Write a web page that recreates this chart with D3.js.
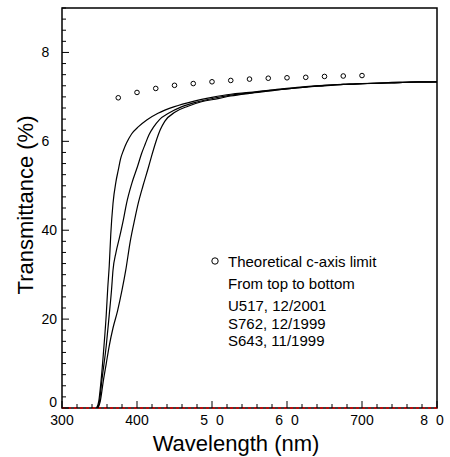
<!DOCTYPE html>
<html><head><meta charset="utf-8">
<script src="https://cdn.jsdelivr.net/npm/d3@7/dist/d3.min.js"></script>
<style>
html,body{margin:0;padding:0;background:#fff;}
text{font-family:"Liberation Sans",Arial,Helvetica,sans-serif;}
</style></head>
<body><svg id="c" width="450" height="457"></svg>
<script>
// ---- data ----
const seriesNames = ["U517, 12/2001", "S762, 12/1999", "S643, 11/1999"];
const u517 = [[346,0],[349,1.5],[352,6],[356,14],[359,21],[361,27],[363,32],[365,39],[368,46],[372,51],[375,53.5],[378,56],[382,58],[386,59.6],[393,61.7],[402,63.3],[413,64.8],[428,66.3],[450,67.8],[475,69.0],[500,69.9],[525,70.6],[550,71.0],[575,71.5],[600,71.9],[625,72.3],[650,72.6],[675,72.8],[700,73.0],[725,73.1],[750,73.2],[775,73.4],[800,73.4]];
const s762 = [[347,0],[350,1.5],[353,6],[359,14],[363,21],[366,26.5],[368,31],[372,35],[377,38.6],[382,42.5],[386,46],[393,50.5],[401,54.5],[406,57.2],[411,59.4],[416,61.5],[422,63.2],[430,64.9],[442,66.3],[460,67.8],[481,68.9],[505,69.8],[525,70.4],[550,70.9],[575,71.4],[600,71.8],[625,72.2],[650,72.6],[675,72.8],[700,73.0],[725,73.1],[750,73.3],[775,73.3],[800,73.4]];
const s643 = [[348,0],[351,1.5],[355,6],[359,10],[363,14],[368,18],[374,21.8],[380,26.5],[385,31],[391,37.5],[397,42.5],[402,46.3],[408,50],[415,54],[420,57],[425,59.8],[431,62.6],[437,64.5],[451,66.6],[468,67.9],[486,68.9],[508,69.6],[525,70.2],[550,70.8],[575,71.3],[600,71.8],[625,72.2],[650,72.5],[675,72.8],[700,73.0],[725,73.1],[750,73.2],[775,73.4],[800,73.4]];
const theoWl = [375,400,425,450,475,500,525,550,575,600,625,650,675,700];
const theoVal = [69.8,71.0,71.9,72.6,73.0,73.4,73.7,74.0,74.2,74.3,74.4,74.6,74.7,74.8];
const xTicks = [300,400,500,600,700,800];
const xTickLabels = ["300","400","5\u20070","6\u20070","700","8\u20070"];
const yTicks = [0,20,40,60,80];
const yTickLabels = ["0","20","40","6\u2007","8\u2007"];
const legendLines = ["Theoretical c-axis limit","From top to bottom","U517, 12/2001","S762, 12/1999","S643, 11/1999"];

// ---- layout ----
const svg = d3.select("#c");
const L = 62, R = 437, T = 8, B = 408;
const x = d3.scaleLinear().domain([300,800]).range([L,R]);
const y = d3.scaleLinear().domain([0,90]).range([B,T]);

// frame
svg.append("rect").attr("x",L).attr("y",T).attr("width",R-L).attr("height",B-T)
  .attr("fill","none").attr("stroke","#000").attr("stroke-width",1.5);

// red dashed zero line
svg.append("line").attr("x1",L).attr("x2",R).attr("y1",y(0)).attr("y2",y(0))
  .attr("stroke","#d00").attr("stroke-width",1.5).attr("stroke-dasharray","3,3");

// x axis ticks (inward)
const xMinor = d3.range(300,801,20);
svg.append("g").selectAll("line").data(xMinor).join("line")
  .attr("x1",d=>x(d)).attr("x2",d=>x(d)).attr("y1",B)
  .attr("y2",d=> d%100===0 ? B-7 : B-4)
  .attr("stroke","#000").attr("stroke-width",1);
svg.append("g").selectAll("text").data(xTicks).join("text")
  .attr("x",(d,i)=>x(d) - (i===xTicks.length-1?5:0)).attr("y",B+17)
  .attr("text-anchor","middle").attr("font-size",14).text((d,i)=>xTickLabels[i]);

// y axis ticks (inward)
const yMinor = d3.range(0,90.1,2.5);
svg.append("g").selectAll("line").data(yMinor).join("line")
  .attr("y1",d=>y(d)).attr("y2",d=>y(d)).attr("x1",L)
  .attr("x2",d=> d%20===0 ? L+7 : L+4)
  .attr("stroke","#000").attr("stroke-width",1);
svg.append("g").selectAll("text").data(yTicks).join("text")
  .attr("x",L-5).attr("y",d=>y(d)+(d===0?-1:5))
  .attr("text-anchor","end").attr("font-size",14).text((d,i)=>yTickLabels[i]);

// axis titles
svg.append("text").attr("x",236).attr("y",451).attr("text-anchor","middle")
  .attr("font-size",22).text("Wavelength (nm)");
svg.append("text").attr("transform","translate(33,205) rotate(-90)").attr("text-anchor","middle")
  .attr("font-size",22).text("Transmittance (%)");

// curves
const line = d3.line().x(d=>x(d[0])).y(d=>y(d[1])).curve(d3.curveMonotoneX);
[u517,s762,s643].forEach((s,i)=>{
  svg.append("path").datum(s).attr("d",line).attr("fill","none")
    .attr("stroke","#000").attr("stroke-width",1.2).attr("class","series-"+i);
});

// theoretical points
svg.append("g").selectAll("circle").data(theoWl).join("circle")
  .attr("cx",d=>x(d)).attr("cy",(d,i)=>y(theoVal[i])).attr("r",2.3)
  .attr("fill","#fff").attr("stroke","#000").attr("stroke-width",1);

// legend
svg.append("circle").attr("cx",215).attr("cy",261).attr("r",3.2)
  .attr("fill","#fff").attr("stroke","#000").attr("stroke-width",1);
const ly = [267,289,311,329,346];
svg.append("g").selectAll("text").data(legendLines).join("text")
  .attr("x",228).attr("y",(d,i)=>ly[i])
  .attr("font-size",15).text(d=>d);
</script></body></html>
